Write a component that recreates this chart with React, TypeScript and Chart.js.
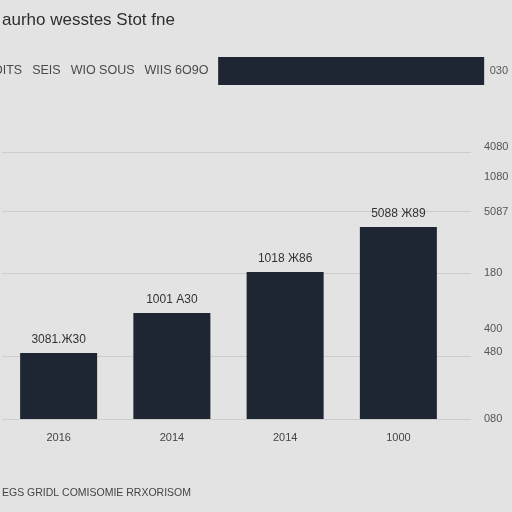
import React, { useEffect, useRef } from "react";
import Chart from "chart.js/auto";

const titleText = "aurho wesstes Stot fne";
const headerItems = ["OITS", "SEIS", "WIO SOUS", "WIIS 6O9O"];
const legendLabel = "030";
const footerText = "EGS GRIDL COMISOMIE RRXORISOM";

const categories = ["2016", "2014", "2014", "1000"];
const values = [66, 106, 147, 192];
const barLabels = ["3081.Ж30", "1001 A30", "1018 Ж86", "5088 Ж89"];

const yMax = 324;
const gridValues = [0, 63, 146, 208, 267];
const tickValues = [0, 67, 90, 146, 207, 242, 272];
const tickLabels = ["080", "480", "400", "180", "5087", "1080", "4080"];

const BG = "#e3e3e3";
const BAR = "#1f2633";
const FONT = "'Liberation Sans', Arial, Helvetica, sans-serif";

Chart.defaults.font.family = FONT;

export default function App() {
  const ref = useRef<HTMLCanvasElement | null>(null);

  useEffect(() => {
    document.body.style.margin = "0";
    const canvas = ref.current;
    if (!canvas) return;

    const bgPlugin = {
      id: "bgFill",
      beforeDraw(chart: any) {
        const { ctx } = chart;
        ctx.save();
        ctx.fillStyle = BG;
        ctx.fillRect(0, 0, chart.width, chart.height);
        ctx.restore();
      },
    };

    const headerPlugin = {
      id: "headerTexts",
      afterDraw(chart: any) {
        const { ctx } = chart;
        const lg = chart.legend;
        const y = lg.top + 4 + 14;
        ctx.save();
        ctx.font = `12.5px ${FONT}`;
        ctx.fillStyle = "#4a4a4a";
        ctx.textBaseline = "middle";
        ctx.textAlign = "left";
        let x = -7;
        headerItems.forEach((t) => {
          ctx.fillText(t, x, y);
          x += ctx.measureText(t).width + 10;
        });
        ctx.restore();
      },
    };

    const barLabelPlugin = {
      id: "barLabels",
      afterDatasetsDraw(chart: any) {
        const { ctx } = chart;
        const meta = chart.getDatasetMeta(0);
        ctx.save();
        ctx.font = `12px ${FONT}`;
        ctx.fillStyle = "#333333";
        ctx.textAlign = "center";
        ctx.textBaseline = "middle";
        meta.data.forEach((el: any, i: number) => {
          ctx.fillText(barLabels[i], el.x, el.y - 13);
        });
        ctx.restore();
      },
    };

    const chart = new Chart(canvas, {
      type: "bar",
      data: {
        labels: categories,
        datasets: [
          {
            label: legendLabel,
            data: values,
            backgroundColor: BAR,
            borderWidth: 0,
            barPercentage: 0.68,
            categoryPercentage: 1,
            yAxisID: "y",
          },
        ],
      },
      options: {
        responsive: false,
        animation: false,
        devicePixelRatio: 1,
        layout: { padding: { left: 2, right: 0, top: 0, bottom: 0 } },
        plugins: {
          tooltip: { enabled: false },
          title: {
            display: true,
            text: titleText,
            align: "start",
            color: "#2e2e2e",
            font: { size: 17, weight: "normal" },
            padding: { top: 10, bottom: 22.6 },
          },
          legend: {
            display: true,
            position: "top",
            align: "end",
            onClick: () => {},
            labels: {
              boxWidth: 266,
              boxHeight: 28,
              padding: 4,
              color: "#555555",
              font: { size: 11 },
              generateLabels: () => [
                {
                  text: legendLabel,
                  fillStyle: BAR,
                  strokeStyle: BAR,
                  lineWidth: 0,
                  hidden: false,
                  fontColor: "#555555",
                  datasetIndex: 0,
                } as any,
              ],
            },
          },
        },
        scales: {
          x: {
            type: "category",
            offset: true,
            grid: { display: false, drawTicks: false },
            border: { display: false },
            ticks: { padding: 12, color: "#444444", font: { size: 11 } },
            title: {
              display: true,
              text: footerText,
              align: "start",
              color: "#444444",
              font: { size: 10.5 },
              padding: { top: 0, bottom: 12.4 },
            },
            afterFit: (s: any) => {
              s.height = 93;
            },
          },
          yGrid: {
            type: "linear",
            position: "right",
            weight: 0,
            min: 0,
            max: yMax,
            grid: { color: "#cdcdcd", lineWidth: 1, tickLength: 16, drawTicks: true },
            border: { display: false },
            ticks: { display: false },
            afterBuildTicks: (s: any) => {
              s.ticks = gridValues.map((v) => ({ value: v }));
            },
            afterFit: (s: any) => {
              s.width = 0;
            },
          },
          y: {
            type: "linear",
            position: "right",
            weight: 1,
            min: 0,
            max: yMax,
            grid: { display: false, drawTicks: false },
            border: { display: false },
            ticks: {
              padding: 29,
              color: "#555555",
              font: { size: 11 },
              callback: (_v: any, i: number) => tickLabels[i],
            },
            afterBuildTicks: (s: any) => {
              s.ticks = tickValues.map((v) => ({ value: v }));
            },
            afterFit: (s: any) => {
              s.width = 57;
            },
          },
        },
      } as any,
      plugins: [bgPlugin, headerPlugin, barLabelPlugin],
    });

    return () => chart.destroy();
  }, []);

  return (
    <div style={{ position: "fixed", left: 0, top: 0, width: 512, height: 512, background: BG }}>
      <canvas ref={ref} width={512} height={512} style={{ display: "block" }} />
    </div>
  );
}
